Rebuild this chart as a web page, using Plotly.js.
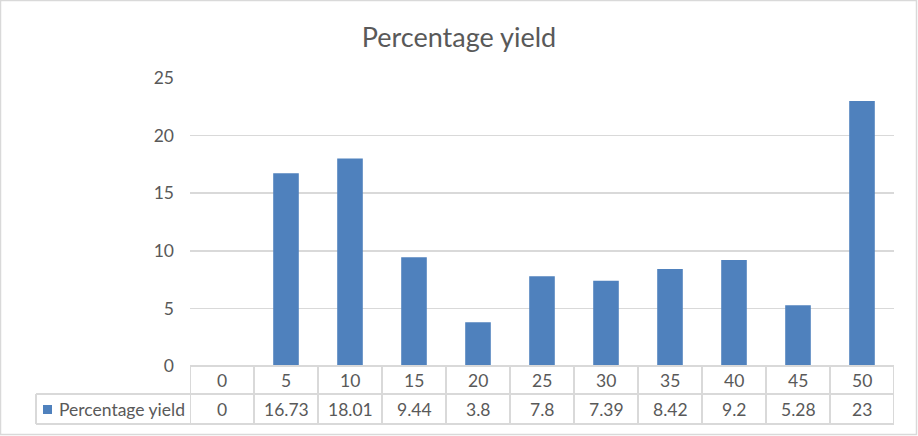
<!DOCTYPE html>
<html>
<head>
<meta charset="utf-8">
<script src="https://cdn.plot.ly/plotly-3.0.1.min.js"></script>
<style>
html,body{margin:0;padding:0;background:#fff;}
#chart{width:918px;height:436px;}
</style>
</head>
<body>
<div id="chart"></div>
<script>
const seriesName = "Percentage yield";
const categories = ["0","5","10","15","20","25","30","35","40","45","50"];
const values = [0, 16.73, 18.01, 9.44, 3.8, 7.8, 7.39, 8.42, 9.2, 5.28, 23];
const valueLabels = ["0","16.73","18.01","9.44","3.8","7.8","7.39","8.42","9.2","5.28","23"];

const W = 918, H = 436;
const M = {l:190, r:24, t:78, b:70};
const PW = W - M.l - M.r, PH = H - M.t - M.b;
const py = p => (H - M.b - p) / PH;   // pixel y -> paper y
const px = p => (p - M.l) / PW;       // pixel x -> paper x

const txtColor = "#595959";
const lineColor = "#d9d9d9";
const font = "Lato, 'Open Sans', sans-serif";
const barColor = "#4f81bd";
const fs = 17.5;

const rowTop = 366, rowMid = 394, rowBot = 424, legLeft = 36;

const shapes = [];
const annotations = [];
// outer border
shapes.push({type:"rect", xref:"paper", yref:"paper", x0:px(0.5), x1:px(916.5), y0:py(434.5), y1:py(0.5),
  line:{color:lineColor, width:1.5}, layer:"below"});
// horizontal table lines
shapes.push({type:"line", xref:"paper", yref:"paper", x0:0, x1:1, y0:py(rowTop), y1:py(rowTop), line:{color:lineColor, width:2}});
shapes.push({type:"line", xref:"paper", yref:"paper", x0:px(legLeft), x1:1, y0:py(rowMid), y1:py(rowMid), line:{color:lineColor, width:2}});
shapes.push({type:"line", xref:"paper", yref:"paper", x0:px(legLeft), x1:1, y0:py(rowBot), y1:py(rowBot), line:{color:lineColor, width:2}});
// legend cell left edge
shapes.push({type:"line", xref:"paper", yref:"paper", x0:px(legLeft), x1:px(legLeft), y0:py(rowMid), y1:py(rowBot), line:{color:lineColor, width:2}});
// vertical column lines
for (let i = 0; i <= categories.length; i++) {
  shapes.push({type:"line", xref:"x", yref:"paper", x0:i-0.5, x1:i-0.5, y0:py(rowTop), y1:py(rowBot), line:{color:lineColor, width:2}});
}
// legend key
shapes.push({type:"rect", xref:"paper", yref:"paper", x0:px(43), x1:px(52), y0:py(414), y1:py(405), line:{width:0}, fillcolor:barColor});
annotations.push({xref:"paper", yref:"paper", x:px(57), y:py(409), xanchor:"left", yanchor:"middle",
  text:seriesName, showarrow:false, font:{family:font, size:fs, color:txtColor}});

categories.forEach((c, i) => {
  annotations.push({xref:"x", yref:"paper", x:i, y:py(380), xanchor:"center", yanchor:"middle",
    text:c, showarrow:false, font:{family:font, size:fs, color:txtColor}});
  annotations.push({xref:"x", yref:"paper", x:i, y:py(409), xanchor:"center", yanchor:"middle",
    text:valueLabels[i], showarrow:false, font:{family:font, size:fs, color:txtColor}});
});

const data = [{
  type:"bar", x:categories, y:values, name:seriesName,
  marker:{color:barColor}, hoverinfo:"x+y"
}];

const layout = {
  width:W, height:H,
  margin:M,
  paper_bgcolor:"#fff", plot_bgcolor:"#fff",
  showlegend:false,
  bargap:0.6,
  title:{text:"Percentage yield", font:{family:font, size:27, color:txtColor},
    x:0.5, xref:"container", xanchor:"center", y:1-38/H, yref:"container", yanchor:"middle"},
  xaxis:{type:"category", range:[-0.5, categories.length-0.5], showticklabels:false,
    showgrid:false, zeroline:false, showline:false, ticks:"", fixedrange:true},
  yaxis:{range:[0,25], dtick:5, tick0:0, showgrid:true, gridcolor:lineColor, gridwidth:1.5,
    zeroline:false, showline:false, ticks:"", ticklabelstandoff:15,
    tickfont:{family:font, size:fs, color:txtColor}, fixedrange:true},
  shapes:shapes,
  annotations:annotations
};

Plotly.newPlot("chart", data, layout, {displayModeBar:false, staticPlot:true});
</script>
</body>
</html>
